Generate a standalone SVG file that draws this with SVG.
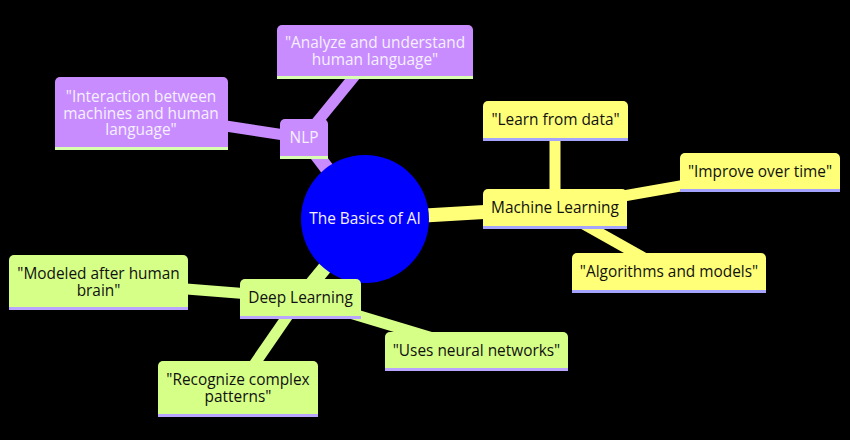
<svg xmlns="http://www.w3.org/2000/svg" width="850" height="440" viewBox="0 0 850 440">
<style>
.bg{fill:#000}
.e{fill:none;stroke-linecap:butt}
.d1{stroke-width:14}
.d2{stroke-width:11}
.pu{stroke:#c98cff}
.ye{stroke:#ffff78}
.gr{stroke:#d6ff88}
.npu{fill:#c98cff}
.nye{fill:#ffff78}
.ngr{fill:#d6ff88}
.lpu{stroke:#d8ffb0;stroke-width:3}
.lye{stroke:#a4a4ff;stroke-width:3}
.lgr{stroke:#b9a4ff;stroke-width:3}
text{font-family:"Open Sans","Noto Sans","DejaVu Sans",sans-serif;font-size:15.4px;text-anchor:middle}
.tw{fill:#f4f0ff}
.tb{fill:#111}
</style>
<rect class="bg" x="0" y="0" width="850" height="440"/>
<g id="connectors">
<line class="e d1 pu" x1="365" y1="219" x2="304" y2="138"/>
<line class="e d2 pu" x1="304" y1="138" x2="375" y2="51"/>
<line class="e d2 pu" x1="304" y1="138" x2="141" y2="113"/>
<line class="e d1 ye" x1="365" y1="219" x2="555" y2="208"/>
<line class="e d2 ye" x1="555" y1="208" x2="555" y2="120"/>
<line class="e d2 ye" x1="555" y1="208" x2="760" y2="172"/>
<line class="e d2 ye" x1="555" y1="208" x2="669" y2="272"/>
<line class="e d1 gr" x1="365" y1="219" x2="300" y2="298"/>
<line class="e d2 gr" x1="300" y1="298" x2="98" y2="282"/>
<line class="e d2 gr" x1="300" y1="298" x2="238" y2="388"/>
<line class="e d2 gr" x1="300" y1="298" x2="476" y2="351"/>
</g>
<g id="root">
<circle cx="365" cy="219" r="64" fill="#0000ff"/>
<text class="tw" x="365" y="224">The Basics of AI</text>
</g>
<g id="nlp">
<path class="npu" d="M280,158V124a5,5 0 0 1 5,-5H323a5,5 0 0 1 5,5V158Z"/>
<line class="lpu" x1="280" y1="157.5" x2="328" y2="157.5"/>
<text class="tw" x="304" y="143">NLP</text>
</g>
<g id="nlp-analyze">
<path class="npu" d="M277,78V30a5,5 0 0 1 5,-5H468a5,5 0 0 1 5,5V78Z"/>
<line class="lpu" x1="277" y1="77.5" x2="473" y2="77.5"/>
<text class="tw" x="375" y="48">"Analyze and understand</text>
<text class="tw" x="375" y="65">human language"</text>
</g>
<g id="nlp-interaction">
<path class="npu" d="M55,149V82a5,5 0 0 1 5,-5H223a5,5 0 0 1 5,5V149Z"/>
<line class="lpu" x1="55" y1="148.5" x2="228" y2="148.5"/>
<text class="tw" x="141" y="102">"Interaction between</text>
<text class="tw" x="141" y="118.5">machines and human</text>
<text class="tw" x="141" y="135">language"</text>
</g>
<g id="ml">
<path class="nye" d="M483,228V194a5,5 0 0 1 5,-5H622a5,5 0 0 1 5,5V228Z"/>
<line class="lye" x1="483" y1="227.5" x2="627" y2="227.5"/>
<text class="tb" x="555" y="213">Machine Learning</text>
</g>
<g id="ml-learn">
<path class="nye" d="M483,140V106a5,5 0 0 1 5,-5H623a5,5 0 0 1 5,5V140Z"/>
<line class="lye" x1="483" y1="139.5" x2="628" y2="139.5"/>
<text class="tb" x="555.5" y="125">"Learn from data"</text>
</g>
<g id="ml-improve">
<path class="nye" d="M680,191V158a5,5 0 0 1 5,-5H835a5,5 0 0 1 5,5V191Z"/>
<line class="lye" x1="680" y1="190.5" x2="840" y2="190.5"/>
<text class="tb" x="760" y="177">"Improve over time"</text>
</g>
<g id="ml-algorithms">
<path class="nye" d="M572,292V258a5,5 0 0 1 5,-5H761a5,5 0 0 1 5,5V292Z"/>
<line class="lye" x1="572" y1="291.5" x2="766" y2="291.5"/>
<text class="tb" x="669" y="277">"Algorithms and models"</text>
</g>
<g id="dl">
<path class="ngr" d="M240,318V284a5,5 0 0 1 5,-5H356a5,5 0 0 1 5,5V318Z"/>
<line class="lgr" x1="240" y1="317.5" x2="361" y2="317.5"/>
<text class="tb" x="300.5" y="303">Deep Learning</text>
</g>
<g id="dl-modeled">
<path class="ngr" d="M9,309V260a5,5 0 0 1 5,-5H183a5,5 0 0 1 5,5V309Z"/>
<line class="lgr" x1="9" y1="308.5" x2="188" y2="308.5"/>
<text class="tb" x="98.5" y="279">"Modeled after human</text>
<text class="tb" x="98.5" y="296">brain"</text>
</g>
<g id="dl-recognize">
<path class="ngr" d="M158,416V366a5,5 0 0 1 5,-5H313a5,5 0 0 1 5,5V416Z"/>
<line class="lgr" x1="158" y1="415.5" x2="318" y2="415.5"/>
<text class="tb" x="238" y="385">"Recognize complex</text>
<text class="tb" x="238" y="402">patterns"</text>
</g>
<g id="dl-uses">
<path class="ngr" d="M385,370V337a5,5 0 0 1 5,-5H563a5,5 0 0 1 5,5V370Z"/>
<line class="lgr" x1="385" y1="369.5" x2="568" y2="369.5"/>
<text class="tb" x="476.5" y="356">"Uses neural networks"</text>
</g>
</svg>
